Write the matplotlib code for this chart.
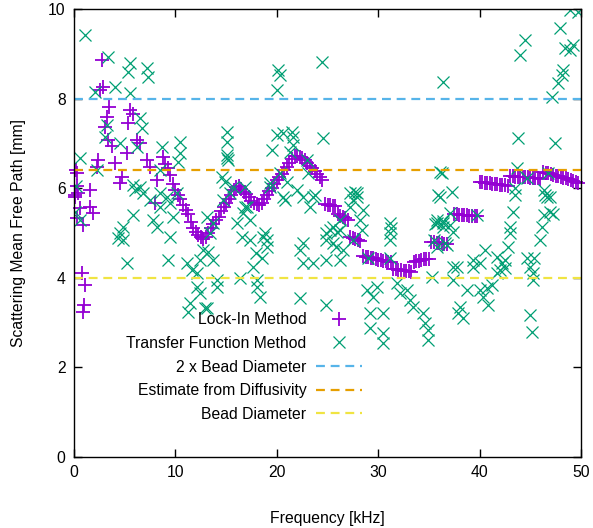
import matplotlib
matplotlib.use("Agg")
import matplotlib.pyplot as plt

plt.rcParams['font.family'] = ['Liberation Sans', 'DejaVu Sans']
plt.rcParams['font.size'] = 11.3

# lock-in method, scattered low-frequency part
lockin_low_khz = [0.2, 0.3, 0.1, 0.05, 0.6, 1.6, 1.9, 0.9, 0.3, 0.8, 1.1, 1.0, 0.9,
                  2.8, 2.9, 2.6, 3.5, 3.3, 3.1, 3.4, 5.5, 5.3, 6.2, 6.5, 2.4, 2.3,
                  4.0, 4.7, 4.5, 5.2, 7.2, 7.5, 8.2, 8.8, 0.3, 1.6, 0.4, 8.0, 5.8, 3.7]
lockin_low_mfp = [6.41, 6.05, 5.85, 5.80, 5.56, 5.58, 5.45, 5.18, 5.33, 4.11, 3.84, 3.39, 3.24,
                  8.86, 8.26, 8.19, 7.81, 7.59, 7.37, 7.08, 7.75, 7.46, 7.08, 7.00, 6.63, 6.47,
                  6.56, 6.25, 6.12, 6.79, 6.63, 6.47, 6.18, 6.70, 6.34, 5.96, 5.90, 5.67, 7.65, 6.95]

# lock-in method, dense sweep
lockin_khz = [9.0, 9.25, 9.5, 9.75, 10.0, 10.25, 10.5, 10.75, 11.0, 11.25, 11.5, 11.75,
              12.0, 12.25, 12.5, 12.75, 13.0, 13.25, 13.5, 13.75, 14.0, 14.25, 14.5, 14.75,
              15.0, 15.25, 15.5, 15.75, 16.0, 16.25, 16.5, 16.75, 17.0, 17.25, 17.5, 17.75,
              18.0, 18.25, 18.5, 18.75, 19.0, 19.25, 19.5, 19.75, 20.0, 20.25, 20.5, 20.75,
              21.0, 21.25, 21.5, 21.75, 22.0, 22.25, 22.5, 22.75, 23.0, 23.25, 23.5, 23.75,
              24.0, 24.25, 24.5,
              24.75, 25.0, 25.25, 25.5, 25.75,
              26.0, 26.25, 26.5, 26.75, 27.0,
              27.25, 27.5, 27.75, 28.0, 28.25,
              28.5, 28.75, 29.0, 29.25, 29.5, 29.75,
              30.0, 30.25, 30.5, 30.75, 31.0, 31.25,
              31.5, 31.75, 32.0, 32.25, 32.5, 32.75, 33.0, 33.25,
              33.5, 33.75, 34.0, 34.25, 34.5, 34.75, 35.0,
              35.25, 35.5, 35.75, 36.0, 36.25, 36.5, 36.75,
              37.5, 37.75, 38.0, 38.25, 38.5, 38.75, 39.0, 39.25, 39.5, 39.75,
              40.0, 40.25, 40.5, 40.75, 41.0, 41.25, 41.5, 41.75, 42.0, 42.25, 42.5, 42.75,
              43.0, 43.25, 43.5, 43.75, 44.0, 44.25, 44.5, 44.75, 45.0, 45.25, 45.5, 45.75, 46.0,
              46.25, 46.5, 46.75, 47.0, 47.25, 47.5, 47.75, 48.0, 48.25, 48.5, 48.75, 49.0,
              49.25, 49.5, 49.75]
lockin_mfp = [6.55, 6.45, 6.30, 6.10, 5.95, 5.85, 5.75, 5.62, 5.52, 5.42, 5.25, 5.12,
              5.02, 4.95, 4.90, 4.86, 4.90, 5.00, 5.10, 5.20, 5.28, 5.35, 5.48, 5.58,
              5.68, 5.76, 5.85, 5.95, 6.02, 6.05, 5.98, 5.92, 5.88, 5.80, 5.72, 5.68,
              5.64, 5.62, 5.68, 5.76, 5.85, 5.93, 6.00, 6.10, 6.18, 6.25, 6.32, 6.40,
              6.47, 6.56, 6.65, 6.72, 6.72, 6.70, 6.68, 6.62, 6.56, 6.50, 6.44, 6.38,
              6.32, 6.25, 6.18,
              5.64, 5.63, 5.62, 5.61, 5.60,
              5.42, 5.38, 5.36, 5.33, 5.30,
              4.90, 4.88, 4.86, 4.84, 4.82,
              4.48, 4.47, 4.46, 4.45, 4.44, 4.43,
              4.40, 4.39, 4.38, 4.37, 4.36, 4.35,
              4.20, 4.19, 4.18, 4.17, 4.16, 4.16, 4.15, 4.14,
              4.36, 4.37, 4.38, 4.40, 4.41, 4.42, 4.43,
              4.80, 4.79, 4.78, 4.78, 4.77, 4.76, 4.75,
              5.42, 5.42, 5.41, 5.41, 5.40, 5.40, 5.39, 5.39, 5.38, 5.38,
              6.14, 6.13, 6.12, 6.12, 6.11, 6.10, 6.10, 6.09, 6.08, 6.07, 6.06, 6.05,
              6.27, 6.27, 6.26, 6.26, 6.25, 6.25, 6.24, 6.24, 6.23, 6.23, 6.22, 6.22, 6.21,
              6.36, 6.34, 6.33, 6.31, 6.30, 6.28, 6.27, 6.25, 6.23, 6.22, 6.20, 6.18,
              6.16, 6.14, 6.12]

# transfer function method
tf_khz = [1.1, 3.4, 5.5, 5.3, 7.2, 7.3, 4.0, 2.1, 5.5, 6.5, 6.7, 3.3, 3.1, 4.5, 6.2, 8.7,
          10.5, 10.5, 10.3, 0.6, 15.1, 15.1, 15.1, 15.2, 14.6, 14.9, 15.7, 16.9, 2.3, 5.8,
          6.0, 8.5, 8.5, 10.2, 0.05, 0.6, 5.8, 4.8, 4.5, 4.3, 4.8, 5.2, 7.8, 8.2, 8.5, 9.5,
          9.3, 6.5, 6.8, 7.5, 9.2, 9.8, 9.5, 11.1, 11.6, 12.1, 12.4, 12.7, 13.2, 12.1, 12.4,
          11.4, 11.2, 12.9, 14.1, 14.1, 13.7, 16.1, 16.6, 17.4, 16.9, 17.7, 18.0, 16.4, 15.4,
          14.7, 20.1, 20.3, 20.0, 24.5, 36.4, 24.6, 20.0, 20.6, 21.5, 21.6, 21.6, 19.5, 21.3,
          36.3, 23.0, 23.1, 19.3, 21.0, 22.0, 23.8, 20.6, 27.7, 27.9, 35.9, 15.1, 17.1, 16.7,
          13.1, 13.7, 13.4, 17.4, 18.8, 19.0, 20.8, 22.6, 23.3, 23.6, 22.6, 20.3, 19.3, 27.2,
          27.5, 27.9, 27.2, 25.5, 24.9, 26.2, 25.5, 25.8, 26.5, 26.2, 24.9, 18.6, 19.0, 22.3,
          22.6, 23.6, 18.0, 18.3, 22.3, 24.9, 28.9, 29.9, 29.5, 29.2, 30.5, 29.2, 30.5, 30.5,
          31.2, 31.2, 31.2, 31.9, 32.1, 32.8, 33.1, 33.4, 34.4, 34.6, 34.9, 35.3, 35.8, 36.1,
          36.4, 28.5, 28.2, 28.4, 27.5, 26.2, 25.2, 25.9, 24.9, 31.3, 37.3, 35.8, 36.4, 37.1,
          35.8, 36.8, 37.4, 29.0, 31.2, 37.1, 37.4, 35.6, 36.4, 35.5, 36.6, 37.8, 37.4, 38.8,
          38.1, 37.9, 38.4, 39.3, 39.3, 40.0, 40.5, 40.0, 40.7, 40.3, 40.8, 41.7, 42.2, 42.5,
          42.0, 42.5, 41.7, 41.2, 42.8, 43.3, 43.0, 43.0, 43.5, 44.7, 45.0, 45.3, 45.3, 45.4,
          45.0, 45.2, 46.0, 46.2, 46.3, 46.9, 46.4, 46.9, 47.2, 44.5, 44.0, 47.9, 48.9, 49.7,
          48.4, 48.9, 49.2, 48.2, 48.1, 47.7, 47.1, 43.8, 47.4, 36.1, 43.7, 44.7, 46.7, 43.5,
          46.3, 46.6, 13.1, 34.9, 0.2, 39.7, 17.9, 18.5]
tf_mfp = [9.42, 8.93, 8.79, 8.60, 8.68, 8.48, 8.26, 8.15, 8.12, 7.57, 7.34, 7.41, 7.14, 7.00, 6.92, 6.92,
          7.03, 6.79, 6.59, 6.67, 7.26, 7.03, 6.74, 6.63, 6.25, 6.14, 6.03, 6.03, 6.41, 6.07,
          5.96, 6.41, 5.89, 5.89, 5.47, 5.29, 5.40, 5.13, 5.00, 4.89, 4.84, 4.33, 5.29, 5.13, 5.58, 4.91,
          4.40, 6.03, 5.89, 5.74, 5.80, 5.36, 5.67, 4.33, 4.17, 4.10, 4.40, 4.62, 4.58, 3.79, 3.66,
          3.44, 3.24, 3.33, 3.79, 3.95, 4.40, 5.22, 4.91, 5.29, 5.58, 4.24, 3.79, 4.00, 5.89,
          5.74, 8.64, 8.53, 8.19, 8.82, 8.37, 7.12, 7.19, 7.23, 7.26, 7.14, 6.96, 6.85, 6.81,
          6.34, 6.63, 6.34, 6.03, 6.14, 5.96, 5.85, 5.80, 5.92, 5.80, 5.85, 6.67, 5.58, 5.45,
          5.36, 5.22, 5.00, 4.84, 5.00, 4.84, 5.74, 5.80, 5.58, 5.80, 4.78, 6.34, 6.12, 5.89,
          5.74, 5.89, 5.58, 5.13, 5.00, 5.07, 4.78, 4.69, 4.62, 4.40, 4.40, 4.91, 4.69, 4.62,
          4.33, 4.33, 3.95, 3.57, 3.55, 3.39, 3.73, 3.79, 3.57, 3.21, 3.21, 2.88, 2.77, 2.54,
          5.22, 5.00, 4.84, 3.88, 3.66, 3.73, 3.50, 3.35, 3.21, 3.00, 2.83, 4.02, 5.29, 5.80,
          5.22, 5.51, 5.29, 5.07, 4.84, 5.29, 5.07, 5.02, 4.84, 5.10, 5.92, 5.22, 5.27, 5.18,
          4.69, 4.73, 4.24, 4.44, 4.44, 5.45, 5.02, 5.20, 5.13, 4.84, 4.78, 4.24, 3.95, 3.73,
          3.35, 3.21, 3.10, 4.40, 4.24, 4.33, 4.62, 3.73, 3.77, 3.57, 3.39, 4.46, 4.33, 4.40,
          4.17, 4.22, 4.10, 3.84, 4.69, 5.47, 5.13, 5.00, 5.85, 4.44, 4.24, 4.10, 3.95, 4.44,
          3.17, 2.79, 4.84, 5.13, 5.40, 5.47, 5.85, 5.80, 5.42, 9.31, 8.97, 9.58, 9.98, 9.93,
          9.13, 9.08, 9.20, 8.64, 8.53, 8.35, 8.04, 7.12, 7.00, 6.36, 6.45, 6.23, 6.34, 6.00,
          5.96, 5.80, 3.33, 2.61, 6.05, 5.40, 4.55, 4.45]

two_bead = 8.0
diffusivity_est = 6.4
bead_diam = 4.0

fig = plt.figure(figsize=(5.93, 5.28), dpi=100)
ax = fig.add_axes([0.1248, 0.1345, 0.855, 0.8485])

purple = '#9400d3'
ax.plot(lockin_low_khz + lockin_khz, lockin_low_mfp + lockin_mfp, ls='none', marker='+',
        ms=9.5, mew=1.3, color=purple, label='Lock-In Method', clip_on=False)
ax.plot(tf_khz, tf_mfp, ls='none', marker='x', ms=8.5, mew=0.9, color='#009e73',
        label='Transfer Function Method')
dash = (0, (4, 2.6))
ax.axhline(two_bead, color='#56b4e9', lw=1.6, ls=dash, label='2 x Bead Diameter')
ax.axhline(diffusivity_est, color='#e69f00', lw=1.6, ls=dash, label='Estimate from Diffusivity')
ax.axhline(bead_diam, color='#f0e442', lw=1.6, ls=dash, label='Bead Diameter')

ax.set_xlim(0, 50)
ax.set_ylim(0, 10)
ax.set_xticks([0, 10, 20, 30, 40, 50])
ax.set_yticks([0, 2, 4, 6, 8, 10])
ax.tick_params(direction='in', length=6, width=1, top=True, right=True, labelsize=11.3, pad=6)
for s in ax.spines.values():
    s.set_linewidth(1.0)
ax.set_xlabel('Frequency [kHz]', fontsize=11.3, labelpad=22)
ax.set_ylabel('Scattering Mean Free Path [mm]', fontsize=11.3, labelpad=16)

leg = ax.legend(loc='lower right', bbox_to_anchor=(0.59, 0.054), frameon=False,
                markerfirst=False, fontsize=11.3, handlelength=2.95, labelspacing=0.55,
                handletextpad=0.6, borderpad=0.2)

fig.savefig('out.png', dpi=100)
